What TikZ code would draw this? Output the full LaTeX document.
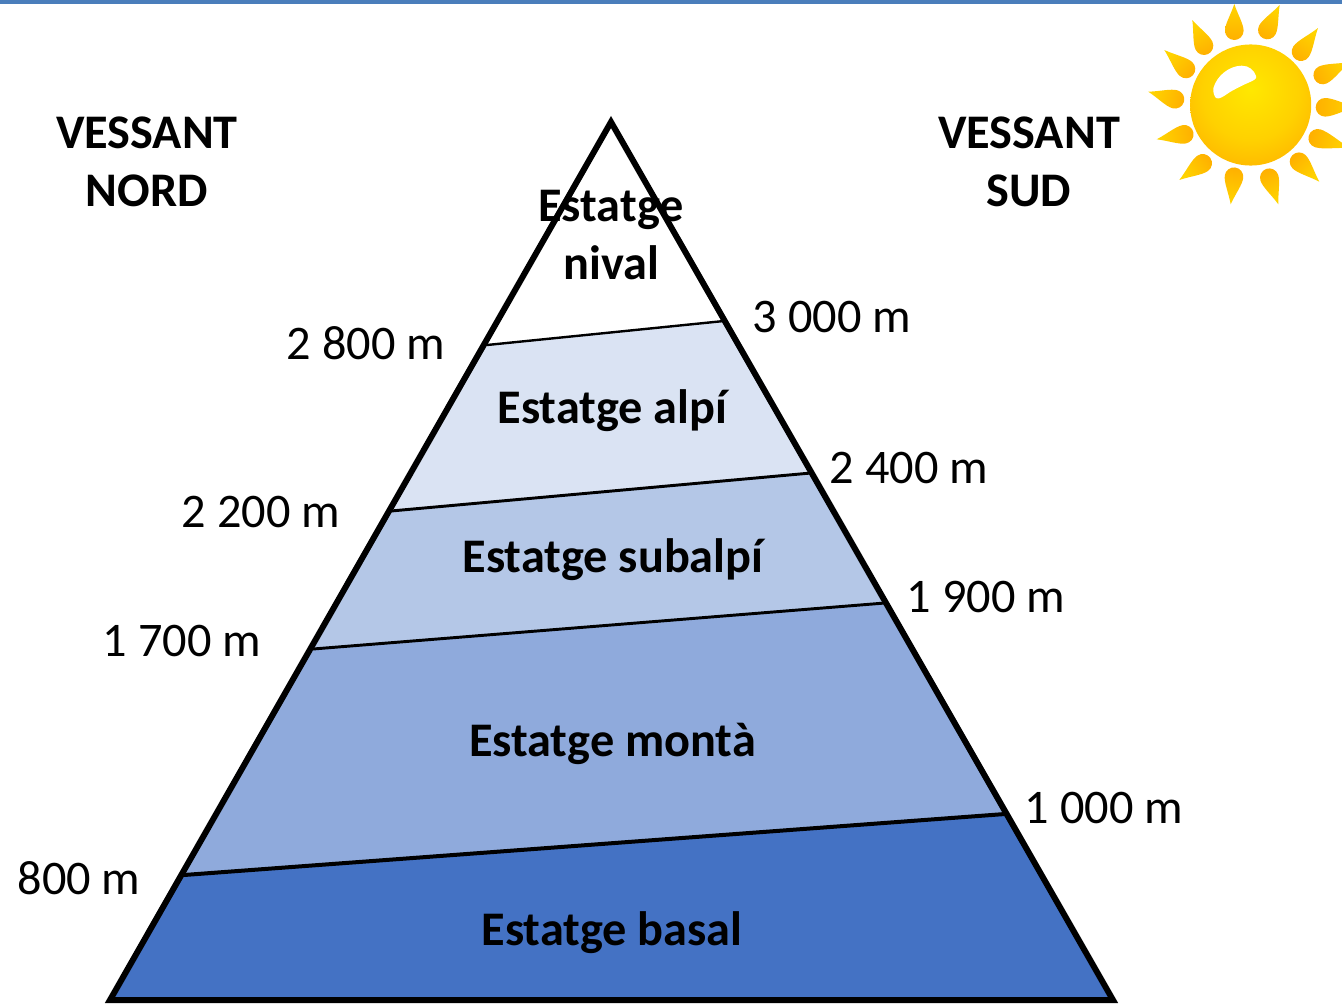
\documentclass[tikz,border=0pt]{standalone}
\usepackage{fontspec}
\setmainfont{Carlito}
\definecolor{barblue}{HTML}{4A7EBB}
\definecolor{alpiblue}{HTML}{DAE3F3}
\definecolor{subalpiblue}{HTML}{B4C7E7}
\definecolor{montablue}{HTML}{8FAADC}
\definecolor{basalblue}{HTML}{4472C4}
\definecolor{raytip}{HTML}{FFD400}
\definecolor{rayblob}{HTML}{FFB000}
\pgfdeclareradialshading{sunball}{\pgfpoint{0bp}{7bp}}{rgb(0bp)=(1,0.91,0);
	rgb(20bp)=(1,0.82,0);rgb(42bp)=(1,0.64,0);rgb(100bp)=(1,0.64,0)}
\tikzset{
	alt/.style={font=\fontsize{36.2}{36.2}\selectfont},
	zone/.style={font=\fontsize{36.2}{43.5}\selectfont\bfseries, align=center},
	bandline/.style={draw=black, line join=round}
}
\begin{document}
\begin{tikzpicture}[x=0.75pt, y=-0.75pt]
	\def\sunray(#1,#2)(#3,#4){
		\pgfmathsetmacro\rayang{atan2(#4-#2,#1-#3)}
		\pgfmathsetmacro\raylen{veclen(#1-#3,#2-#4)}
		\begin{scope}[shift={(#3,#4)}, rotate=\rayang]
			\shade[top color=raytip, bottom color=rayblob, shading angle=\rayang-90]
				(\raylen,0) .. controls (0.6*\raylen,3.5) and (0.25*\raylen,9.3) .. (0,9.3)
				.. controls (-5.1,9.3) and (-9.3,5.1) .. (-9.3,0)
				.. controls (-9.3,-5.1) and (-5.1,-9.3) .. (0,-9.3)
				.. controls (0.25*\raylen,-9.3) and (0.6*\raylen,-3.5) .. (\raylen,0) -- cycle;
		\end{scope}}
	\useasboundingbox (0,0) rectangle (1342,1003);
	\clip (0,0) rectangle (1342,1003);
	\fill[barblue] (0,0) rectangle (1342,3.5);
	% pyramid
	\coordinate (apex) at (611,122);
	\coordinate (baseL) at (110,1000);
	\coordinate (baseR) at (1113,1000);
	\coordinate (nivalL) at (487,345);
	\coordinate (nivalR) at (724,321);
	\coordinate (alpiL) at (391,511);
	\coordinate (alpiR) at (811,473);
	\coordinate (subalpiL) at (313,649);
	\coordinate (subalpiR) at (885,603);
	\coordinate (montaL) at (184,875);
	\coordinate (montaR) at (1005,814);
	\fill[alpiblue] (nivalL) -- (nivalR) -- (alpiR) -- (alpiL) -- cycle;
	\fill[subalpiblue] (alpiL) -- (alpiR) -- (subalpiR) -- (subalpiL) -- cycle;
	\fill[montablue] (subalpiL) -- (subalpiR) -- (montaR) -- (montaL) -- cycle;
	\fill[basalblue] (montaL) -- (montaR) -- (baseR) -- (baseL) -- cycle;
	\draw[bandline, line width=1.8pt] (nivalL) -- (nivalR);
	\draw[bandline, line width=2.2pt] (alpiL) -- (alpiR);
	\draw[bandline, line width=2.2pt] (subalpiL) -- (subalpiR);
	\draw[bandline, line width=3pt] (montaL) -- (montaR);
	\draw[bandline, line width=4.5pt, line join=miter] (apex) -- (baseR) -- (baseL) -- cycle;
	% sun
	\foreach \tx/\ty/\cx/\cy in {1234.3/4/1234.3/30.7, 1279.7/5/1267.3/30, 1318/28/1301/51.7,
		1350/62/1322.7/75, 1356/107/1325/107.3, 1350/148/1317.7/138.3,
		1319.3/181.7/1299/161.7, 1278.3/204.3/1269.3/177.7, 1230.7/204.3/1234/176.7,
		1179.3/180/1202.7/163.3, 1156.7/139.3/1184.3/134.3, 1148.3/91.7/1175/99.3,
		1164.3/50/1186/69, 1192.3/20/1204/45.7}{\sunray(\tx,\ty)(\cx,\cy)}
	\shade[shading=sunball] (1250.7,105) circle[radius=45.4pt];
	\fill[white] (1213.3,88.3) .. controls (1217,75) and (1230,65.7) .. (1241.7,65.7)
		.. controls (1249,65.7) and (1254,70) .. (1256,76)
		.. controls (1257,79) and (1254,80) .. (1250,82)
		.. controls (1243,85) and (1237,88) .. (1230,92)
		.. controls (1224,96) and (1219,100) .. (1216,98)
		.. controls (1214,96) and (1213,92) .. (1213.3,88.3) -- cycle;
	% labels
	\node[zone] (nord) at (147,161.5) {VESSANT\\NORD};
	\node[zone] (sud) at (1029,161.5) {VESSANT\\SUD};
	\node[zone] (nival) at (611,235.5) {Estatge\\nival};
	\node[zone] (alpi) at (612.5,410.5) {Estatge alpí};
	\node[zone] (subalpi) at (613,559.5) {Estatge subalpí};
	\node[zone] (monta) at (612.5,743.5) {Estatge montà};
	\node[zone] (basal) at (612,932.5) {Estatge basal};
	\node[alt] (n2800) at (366,343) {2 800 m};
	\node[alt] (n2200) at (261,512) {2 200 m};
	\node[alt] (n1700) at (182,641) {1 700 m};
	\node[alt] (n800) at (79,878) {800 m};
	\node[alt] (s3000) at (832,317) {3 000 m};
	\node[alt] (s2400) at (909,468) {2 400 m};
	\node[alt] (s1900) at (986,597) {1 900 m};
	\node[alt] (s1000) at (1104,808) {1 000 m};
\end{tikzpicture}
\end{document}
